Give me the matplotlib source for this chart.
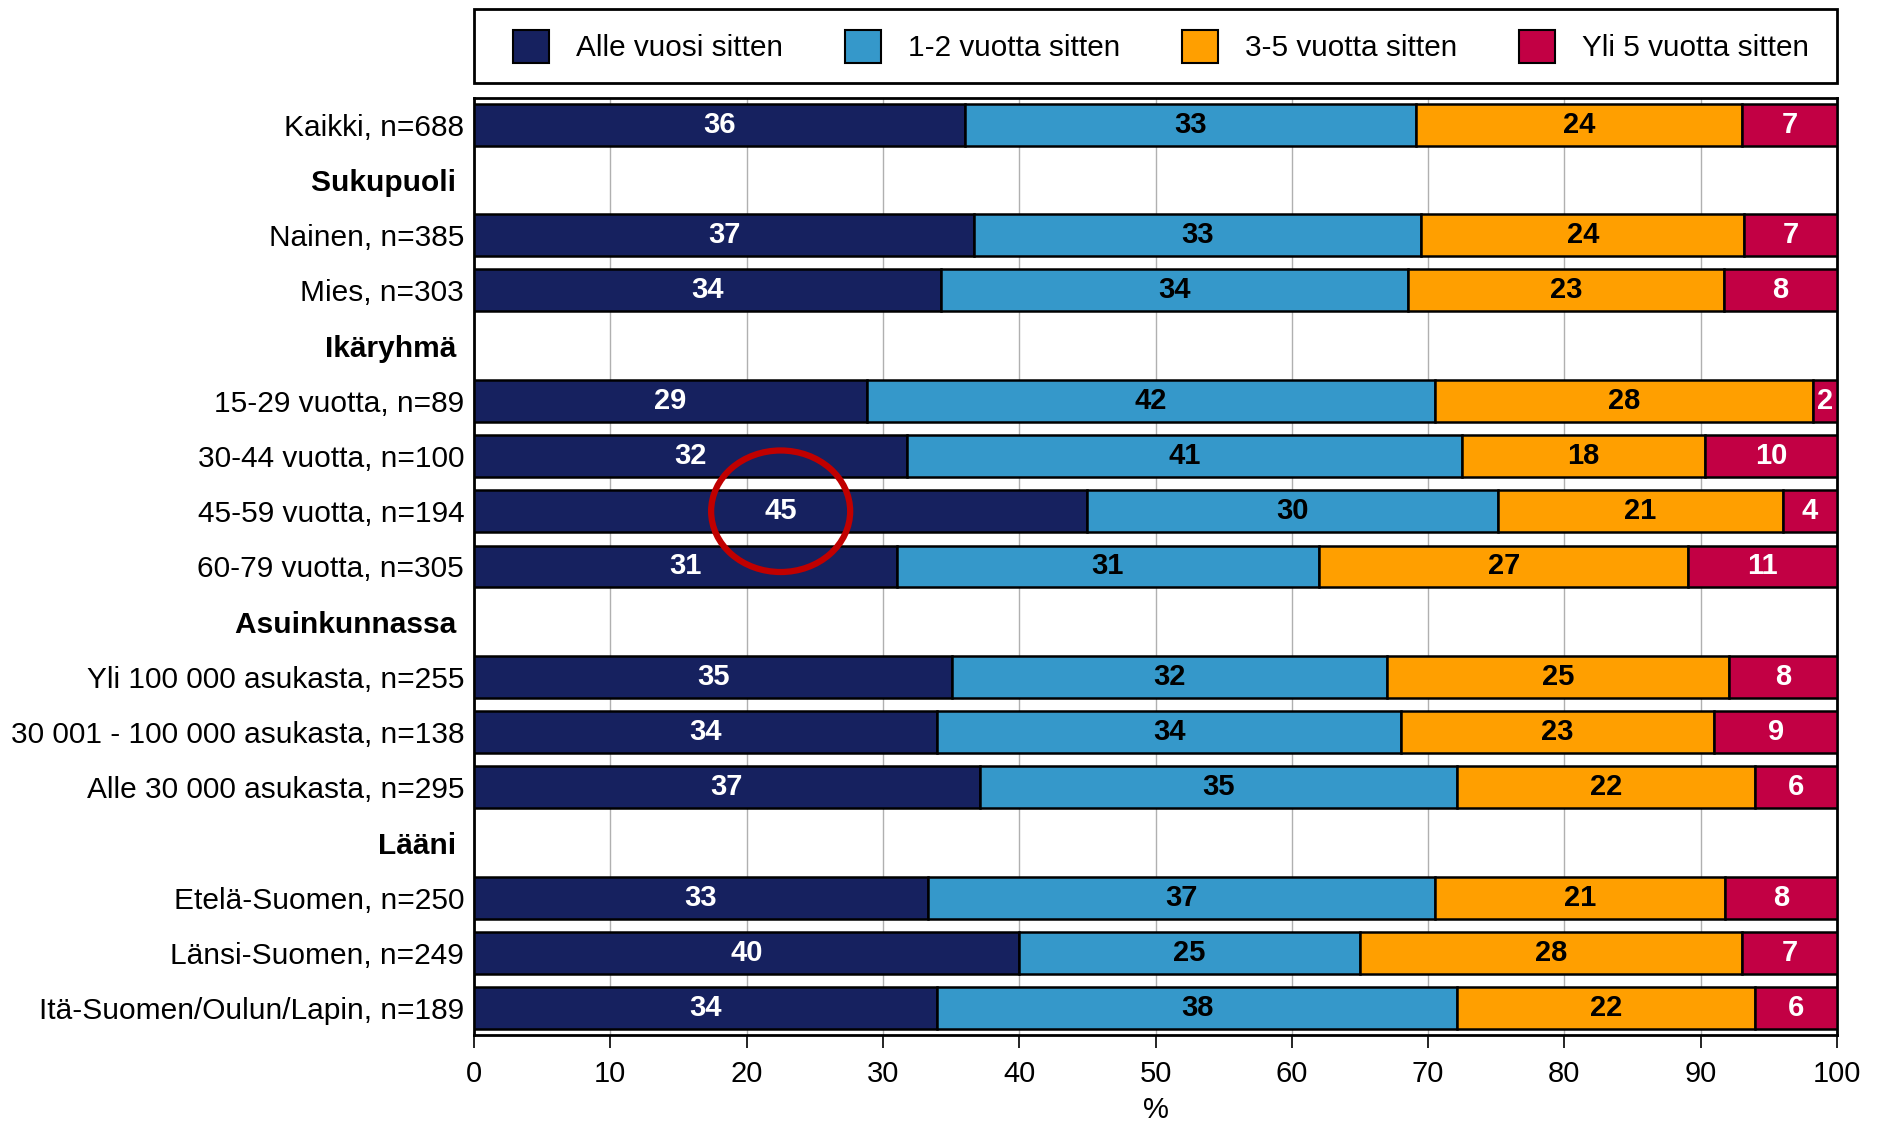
import matplotlib.pyplot as plt
import numpy as np
from matplotlib.patches import Ellipse, Patch, Rectangle

plt.rcParams["font.family"] = ["Liberation Sans", "DejaVu Sans"]

# rows of the chart, headers are bold and have no bars
row_labels = ["Kaikki, n=688", "Sukupuoli", "Nainen, n=385", "Mies, n=303",
              "Ikäryhmä", "15-29 vuotta, n=89", "30-44 vuotta, n=100",
              "45-59 vuotta, n=194", "60-79 vuotta, n=305", "Asuinkunnassa",
              "Yli 100 000 asukasta, n=255", "30 001 - 100 000 asukasta, n=138",
              "Alle 30 000 asukasta, n=295", "Lääni", "Etelä-Suomen, n=250",
              "Länsi-Suomen, n=249", "Itä-Suomen/Oulun/Lapin, n=189"]
header_rows = ["Sukupuoli", "Ikäryhmä", "Asuinkunnassa", "Lääni"]

series_names = ["Alle vuosi sitten", "1-2 vuotta sitten", "3-5 vuotta sitten", "Yli 5 vuotta sitten"]
alle_vuosi = [36.0, 36.7, 34.3, 28.8, 31.8, 45.0, 31.0, 35.1, 34.0, 37.1, 33.3, 40.0, 34.0]
v1_2 = [33.1, 32.8, 34.2, 41.7, 40.7, 30.1, 31.0, 31.9, 34.0, 35.0, 37.2, 25.0, 38.1]
v3_5 = [23.9, 23.7, 23.2, 27.7, 17.8, 20.9, 27.1, 25.1, 23.0, 21.9, 21.3, 28.0, 21.9]
yli_5 = [7.0, 6.8, 8.3, 1.8, 9.7, 4.0, 10.9, 7.9, 9.0, 6.0, 8.2, 7.0, 6.0]

colors = ["#16215F", "#3598CA", "#FF9F00", "#C20044"]
text_colors = ["white", "black", "black", "white"]

fig = plt.figure(figsize=(18.83, 11.24), dpi=100)
ax = fig.add_axes([0.2517, 0.0792, 0.7239, 0.8336])

y_all = np.arange(len(row_labels))
y_data = [i for i, lab in enumerate(row_labels) if lab not in header_rows]

left = np.zeros(len(y_data))
for name, vals, c, tc in zip(series_names, [alle_vuosi, v1_2, v3_5, yli_5], colors, text_colors):
    vals = np.array(vals)
    bars = ax.barh(y_data, vals, left=left, height=0.76, color=c, edgecolor="black",
                   linewidth=1.8, label=name, zorder=3)
    ax.bar_label(bars, labels=[f"{round(v)}" for v in vals], label_type="center",
                 color=tc, fontsize=21, fontweight="bold", zorder=4)
    left = left + vals

# highlight around the 45-59 value
i45 = y_data[5]
ax.add_patch(Ellipse((alle_vuosi[5] / 2, i45), 10.2, 2.2, fill=False,
                     edgecolor="#C00000", linewidth=4.5, zorder=5))

ax.set_xlim(0, 100)
ax.set_ylim(len(row_labels) - 0.52, -0.48)
ax.set_xticks(np.arange(0, 101, 10))
ax.tick_params(axis="x", labelsize=21, length=9, width=1.2, direction="out", pad=9)
ax.set_yticks(y_all)
ax.set_yticklabels([lab + " " if lab in header_rows else lab for lab in row_labels], fontsize=21.5)
for t, lab in zip(ax.get_yticklabels(), row_labels):
    if lab in header_rows:
        t.set_fontweight("bold")
ax.tick_params(axis="y", length=0, pad=7)
ax.set_xlabel("%", fontsize=21, labelpad=6)

ax.grid(axis="x", color="#B0B0B0", linewidth=1.0, zorder=0)
for s in ax.spines.values():
    s.set_linewidth(2)
    s.set_color("black")

# legend box spans the whole plot width
ax.add_patch(Rectangle((0, 1.0155), 1, 0.0795, transform=ax.transAxes, fill=False,
                       edgecolor="black", linewidth=2, clip_on=False))
handles = [Patch(facecolor=c, edgecolor="black", linewidth=1.5) for c in colors]
ax.legend(handles, series_names, loc="center", bbox_to_anchor=(0.504, 1.055),
          ncol=4, frameon=False, fontsize=21.4, handlelength=1.21, handleheight=1.33,
          handletextpad=0.9, columnspacing=2.1, borderaxespad=0)

fig.savefig("out.png", dpi=100)
